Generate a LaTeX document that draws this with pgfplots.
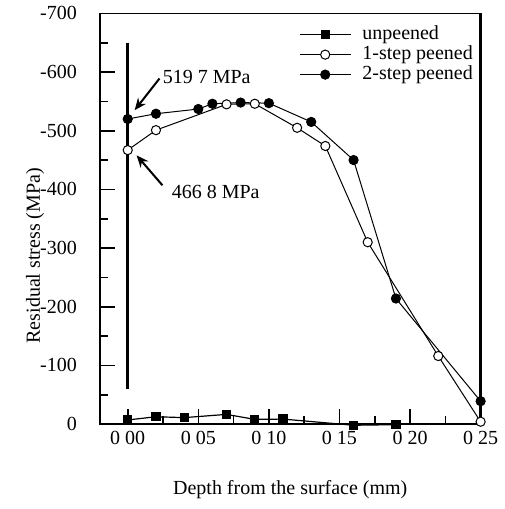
\documentclass[border=0pt]{standalone}
\usepackage{fontspec}
\setmainfont{Liberation Serif}
\usepackage{pgfplots}
\pgfplotsset{compat=1.18}
\usetikzlibrary{arrows.meta}

\begin{document}
\begin{tikzpicture}
\begin{axis}[
    scale only axis, width=190.5pt, height=205.5pt,
    font=\fontsize{10}{12}\selectfont,
    xmin=-0.0197, xmax=0.25,
    ymin=-700, ymax=0, y dir=reverse,
    xtick={0,0.05,0.10,0.15,0.20,0.25},
    xticklabels={0 00,0 05,0 10,0 15,0 20,0 25},
    minor xtick={0.025,0.075,0.125,0.175,0.225},
    ytick={-700,-600,...,0},
    minor ytick={-650,-550,...,-50},
    /pgf/number format/assume math mode=true,
    tick align=inside, xtick pos=bottom, ytick pos=left,
    major tick length=7.5pt, minor tick length=4pt,
    every tick/.style={black, line width=0.8pt},
    axis line style={line width=0.8pt},
    yticklabel style={xshift=-8pt},
    xlabel={Depth from the surface (mm)},
    ylabel={Residual stress (MPa)},
    every axis x label/.style={at={(axis description cs:0.5,-0.16)}, anchor=center},
    every axis y label/.style={at={(axis description cs:-0.1706,0.41)}, anchor=center, rotate=90},
    clip=false,
    legend style={at={(axis description cs:0.522,0.976)}, anchor=north west, draw=none, fill=none,
        inner sep=0pt, row sep=-1pt,
        nodes={inner sep=1pt, text height=7pt, text depth=2pt}},
    legend cell align=left,
    legend image code/.code={\draw[mark repeat=2, mark phase=2, #1] plot coordinates {(0cm,0cm) (0.45cm,0cm) (0.9cm,0cm)};},
]
% thick marker line at the surface
\addplot[black, line width=1.5pt, forget plot] coordinates {(0,-650) (0,-60)};
\draw[black, line width=1.3pt] (rel axis cs:1,0) -- (rel axis cs:1,1);

\addplot[black, line width=0.6pt, mark=square*, mark size=2pt, mark options={fill=black}] coordinates {
    (0,-7) (0.02,-12.5) (0.04,-11) (0.07,-16.5) (0.09,-8) (0.11,-8.5) (0.16,2) (0.19,1)};
\addplot[black, line width=0.5pt, mark=*, mark size=2.3pt, mark options={fill=white}] coordinates {
    (0,-467) (0.02,-501) (0.07,-545) (0.09,-546) (0.12,-505) (0.14,-474) (0.17,-310) (0.22,-116) (0.25,-4)};
\addplot[black, line width=0.5pt, mark=*, mark size=2.3pt, mark options={fill=black}] coordinates {
    (0,-520) (0.02,-529) (0.05,-537) (0.06,-546) (0.08,-548) (0.10,-547) (0.13,-515) (0.16,-450) (0.19,-214) (0.25,-39)};
\legend{\hspace*{4.5pt}unpeened, \hspace*{4.5pt}1-step peened, \hspace*{4.5pt}2-step peened}

% annotations
\node[anchor=west, inner sep=0pt] at (axis cs:0.0246,-591) {519 7 MPa};
\draw[-{Stealth[length=6pt,width=5pt]}, line width=1pt] (axis cs:0.0225,-589) -- (axis cs:0.0049,-535);
\node[anchor=west, inner sep=0pt] at (axis cs:0.031,-395) {466 8 MPa};
\draw[-{Stealth[length=6pt,width=5pt]}, line width=1pt] (axis cs:0.0246,-407) -- (axis cs:0.0063,-458);
\coordinate (sw) at (rel axis cs:0,0);
\end{axis}
\path (sw) ++(-50pt,-42.5pt) rectangle ++(249pt,254.5pt);
\end{tikzpicture}
\end{document}
